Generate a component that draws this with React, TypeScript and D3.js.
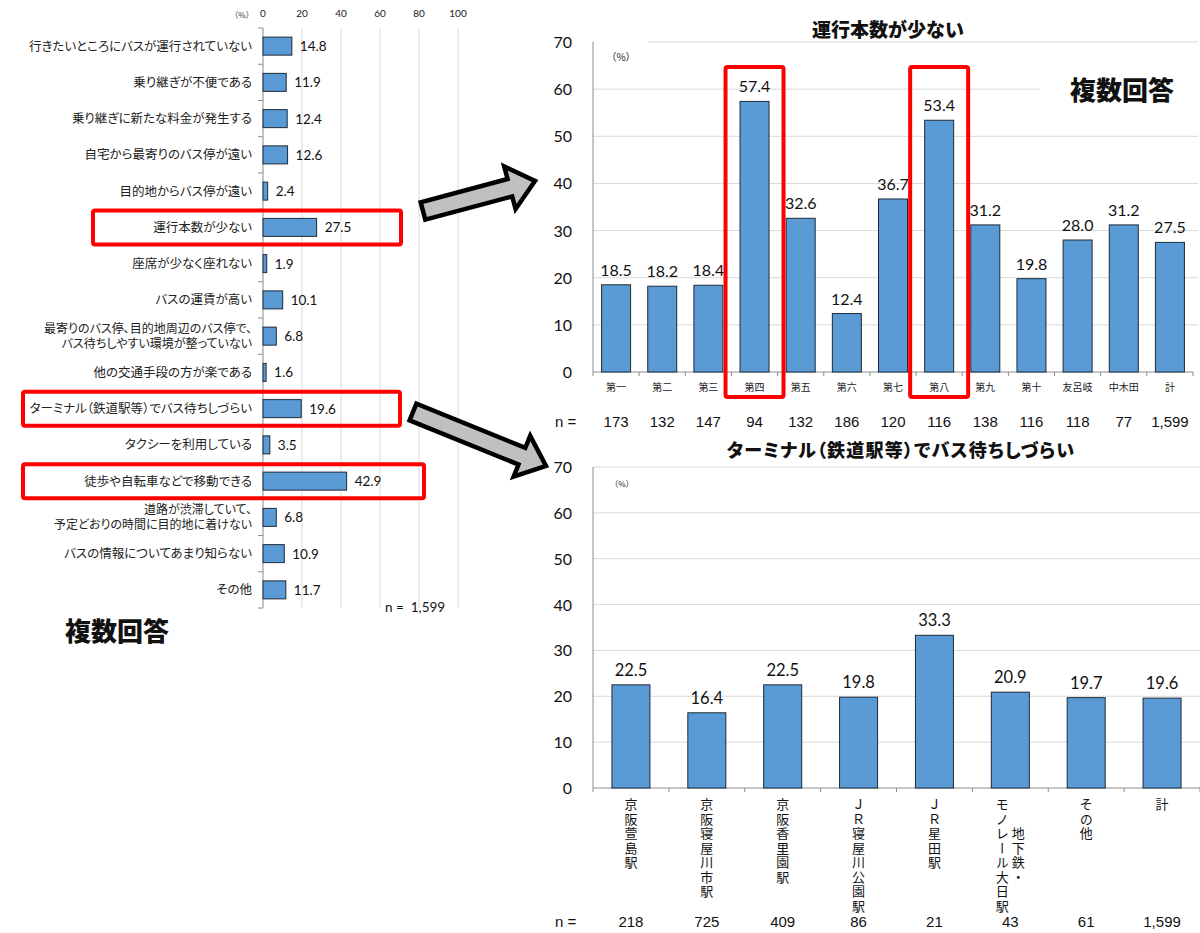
import React from "react";
import * as d3 from "d3";

// ---------- data ----------
const reasons = [
  "行きたいところにバスが運行されていない",
  "乗り継ぎが不便である",
  "乗り継ぎに新たな料金が発生する",
  "自宅から最寄りのバス停が遠い",
  "目的地からバス停が遠い",
  "運行本数が少ない",
  "座席が少なく座れない",
  "バスの運賃が高い",
  "最寄りのバス停、目的地周辺のバス停で、\nバス待ちしやすい環境が整っていない",
  "他の交通手段の方が楽である",
  "ターミナル（鉄道駅等）でバス待ちしづらい",
  "タクシーを利用している",
  "徒歩や自転車などで移動できる",
  "道路が渋滞していて、\n予定どおりの時間に目的地に着けない",
  "バスの情報についてあまり知らない",
  "その他",
];
const reasonValues = [14.8, 11.9, 12.4, 12.6, 2.4, 27.5, 1.9, 10.1, 6.8, 1.6, 19.6, 3.5, 42.9, 6.8, 10.9, 11.7];
const reasonTicks = [0, 20, 40, 60, 80, 100];
const reasonTotalN = 1599;

const wards = ["第一", "第二", "第三", "第四", "第五", "第六", "第七", "第八", "第九", "第十", "友呂岐", "中木田", "計"];
const wardValues = [18.5, 18.2, 18.4, 57.4, 32.6, 12.4, 36.7, 53.4, 31.2, 19.8, 28.0, 31.2, 27.5];
const wardN = [173, 132, 147, 94, 132, 186, 120, 116, 138, 116, 118, 77, 1599];

const stations = [
  "京阪萱島駅",
  "京阪寝屋川市駅",
  "京阪香里園駅",
  "ＪＲ寝屋川公園駅",
  "ＪＲ星田駅",
  "地下鉄・\nモノレール大日駅",
  "その他",
  "計",
];
const stationValues = [22.5, 16.4, 22.5, 19.8, 33.3, 20.9, 19.7, 19.6];
const stationN = [218, 725, 409, 86, 21, 43, 61, 1599];

const pctTicks = [0, 10, 20, 30, 40, 50, 60, 70];

const highlightedWards = ["第四", "第八"];

// ---------- styles ----------
const JP = "'Noto Sans CJK JP', 'Noto Sans CJK SC', sans-serif";
const NUM = "Lato, 'Liberation Sans', sans-serif";
const NARROW = "'Liberation Sans Narrow', 'Liberation Sans', Arial, sans-serif";
const BAR = "#5b9bd5";
const BAR_EDGE = "#1e2a38";
const GRID = "#d9d9d9";
const AXIS = "#8c8c8c";
const RED = "#ff0000";
const fmtN = d3.format(",");

function arrowPoints(x0: number, y0: number, x1: number, y1: number, sw: number, hw: number, hl: number) {
  const dx = x1 - x0, dy = y1 - y0, L = Math.hypot(dx, dy);
  const ux = dx / L, uy = dy / L, nx = -uy, ny = ux;
  const pts: [number, number][] = [
    [0, sw / 2], [L - hl, sw / 2], [L - hl, hw / 2], [L, 0],
    [L - hl, -hw / 2], [L - hl, -sw / 2], [0, -sw / 2],
  ];
  return pts.map(([a, b]) => `${x0 + ux * a + nx * b},${y0 + uy * a + ny * b}`).join(" ");
}

function LeftChart() {
  const x = d3.scaleLinear().domain([0, 100]).range([263, 458]);
  const y = d3.scaleBand<string>().domain(reasons).range([28, 608]);
  const bw = y.bandwidth();
  const boundaries = d3.range(reasons.length + 1).map((i) => 28 + i * bw);
  // highlight boxes: [reason index, left, right]
  const boxes: [number, number, number][] = [
    [5, 93, 401],
    [10, 23, 400],
    [12, 23, 424],
  ];
  return (
    <g>
      {reasonTicks.slice(1).map((t) => (
        <line key={t} x1={x(t)} x2={x(t)} y1={28} y2={608} stroke={GRID} strokeWidth={1} />
      ))}
      {reasonTicks.map((t) => (
        <text key={t} x={x(t)} y={17} fontSize={10} fontFamily={NUM} textAnchor="middle" fill="#222">{t}</text>
      ))}
      <text x={242} y={18} fontSize={8} fontFamily={JP} textAnchor="middle" fill="#333">（%）</text>
      <line x1={x(0)} x2={x(0)} y1={28} y2={608} stroke={AXIS} strokeWidth={1} />
      {boundaries.map((b, i) => (
        <line key={i} x1={x(0) - 5} x2={x(0)} y1={b} y2={b} stroke={AXIS} strokeWidth={1} />
      ))}
      {reasons.map((r, i) => {
        const cy = (y(r) as number) + bw / 2;
        const lines = r.split("\n");
        return (
          <g key={r}>
            <rect x={x(0)} y={cy - 9} width={x(reasonValues[i]) - x(0)} height={18} fill={BAR} stroke={BAR_EDGE} strokeWidth={1} />
            <text x={x(reasonValues[i]) + 8} y={cy + 5} fontSize={13.5} fontFamily={NUM} fill="#111">{reasonValues[i].toFixed(1)}</text>
            <text x={252} y={cy + 4.5 - ((lines.length - 1) / 2) * 15} fontSize={lines.length > 1 ? 12 : 12.5} fontFamily={JP} textAnchor="end" fill="#222"
              style={{ fontFeatureSettings: "'palt'" }}>
              {lines.map((ln, k) => (
                <tspan key={k} x={252} dy={k === 0 ? 0 : 15}>{ln}</tspan>
              ))}
            </text>
          </g>
        );
      })}
      {boxes.map(([idx, x0, x1]) => {
        const cy = (y(reasons[idx]) as number) + bw / 2;
        return <rect key={idx} x={x0} y={cy - 17} width={x1 - x0} height={34} rx={2} fill="none" stroke={RED} strokeWidth={4} />;
      })}
      <text x={385} y={612} fontSize={13.5} fontFamily={NUM} fill="#111" style={{ whiteSpace: "pre" }}>{"n =  " + fmtN(reasonTotalN)}</text>
      <text x={65} y={641} fontSize={26} fontWeight="900" fontFamily={JP} fill="#111">複数回答</text>
    </g>
  );
}

function WardChart() {
  const x = d3.scaleBand<string>().domain(wards).range([593, 1193]);
  const y = d3.scaleLinear().domain([0, 70]).range([372, 42]);
  const bw = x.bandwidth();
  const barW = 29;
  return (
    <g>
      <text x={888} y={37} fontSize={19} fontWeight="900" fontFamily={JP} textAnchor="middle" fill="#111">運行本数が少ない</text>
      {pctTicks.slice(1).map((t) => (
        <line key={t} x1={593} x2={1198} y1={y(t)} y2={y(t)} stroke={GRID} strokeWidth={1} />
      ))}
      {/* white label boxes covering grid */}
      <rect x={594} y={36} width={54} height={34} fill="#fff" />
      <rect x={1040} y={70} width={160} height={40} fill="#fff" />
      <text x={621} y={61} fontSize={10} fontFamily={JP} textAnchor="middle" fill="#222">（%）</text>
      <text x={1070} y={100} fontSize={26} fontWeight="900" fontFamily={JP} fill="#111">複数回答</text>
      {pctTicks.map((t) => (
        <text key={t} x={572} y={y(t) + 6} fontSize={16} fontFamily={NUM} textAnchor="end" fill="#111">{t}</text>
      ))}
      <line x1={593} x2={593} y1={y(70)} y2={y(0)} stroke={AXIS} strokeWidth={1} />
      <line x1={593} x2={1193} y1={y(0)} y2={y(0)} stroke={AXIS} strokeWidth={1} />
      {d3.range(wards.length + 1).map((i) => (
        <line key={i} x1={593 + i * bw} x2={593 + i * bw} y1={y(0)} y2={y(0) + 4} stroke={AXIS} strokeWidth={1} />
      ))}
      {wards.map((w, i) => {
        const cx = (x(w) as number) + bw / 2;
        return (
          <g key={w}>
            <rect x={cx - barW / 2} y={y(wardValues[i])} width={barW} height={y(0) - y(wardValues[i])} fill={BAR} stroke={BAR_EDGE} strokeWidth={1} />
            <text x={cx} y={y(wardValues[i]) - 9} fontSize={16} fontFamily={NUM} textAnchor="middle" fill="#111">{wardValues[i].toFixed(1)}</text>
            <text x={cx} y={391} fontSize={10} fontFamily={JP} textAnchor="middle" fill="#222">{w}</text>
            <text x={cx} y={427} fontSize={15} fontFamily={NARROW} textAnchor="middle" fill="#111">{fmtN(wardN[i])}</text>
          </g>
        );
      })}
      <text x={555} y={427} fontSize={15} fontFamily={NARROW} fill="#111">n =</text>
      {highlightedWards.map((w) => {
        const cx = (x(w) as number) + bw / 2;
        return <rect key={w} x={cx - 29} y={67} width={58} height={330} rx={2} fill="none" stroke={RED} strokeWidth={4} />;
      })}
    </g>
  );
}

function StationChart() {
  const x = d3.scaleBand<string>().domain(stations).range([593, 1200]);
  const y = d3.scaleLinear().domain([0, 70]).range([788, 467]);
  const bw = x.bandwidth();
  const barW = 38;
  const charStep = 14.5;
  const labelTop = 798;
  return (
    <g>
      <text x={901} y={457} fontSize={18} fontWeight="900" fontFamily={JP} textAnchor="middle" fill="#111"
        style={{ fontFeatureSettings: "'palt'", letterSpacing: "1.2px" }}>ターミナル（鉄道駅等）でバス待ちしづらい</text>
      {pctTicks.slice(1).map((t) => (
        <line key={t} x1={593} x2={1200} y1={y(t)} y2={y(t)} stroke={GRID} strokeWidth={1} />
      ))}
      <text x={622} y={487} fontSize={8} fontFamily={JP} textAnchor="middle" fill="#222">（%）</text>
      {pctTicks.map((t) => (
        <text key={t} x={572} y={y(t) + 6} fontSize={16} fontFamily={NUM} textAnchor="end" fill="#111">{t}</text>
      ))}
      <line x1={593} x2={593} y1={y(70)} y2={y(0)} stroke={AXIS} strokeWidth={1} />
      <line x1={593} x2={1200} y1={y(0)} y2={y(0)} stroke={AXIS} strokeWidth={1} />
      {d3.range(stations.length + 1).map((i) => (
        <line key={i} x1={593 + i * bw} x2={593 + i * bw} y1={y(0)} y2={y(0) + 4} stroke={AXIS} strokeWidth={1} />
      ))}
      {stations.map((s, i) => {
        const cx = (x(s) as number) + bw / 2;
        const cols = s.split("\n");
        const maxLen = d3.max(cols, (c) => Array.from(c).length) as number;
        const midY = labelTop + (maxLen * charStep) / 2;
        return (
          <g key={s}>
            <rect x={cx - barW / 2} y={y(stationValues[i])} width={barW} height={y(0) - y(stationValues[i])} fill={BAR} stroke={BAR_EDGE} strokeWidth={1} />
            <text x={cx} y={y(stationValues[i]) - 9} fontSize={16.5} fontFamily={NUM} textAnchor="middle" fill="#111">{stationValues[i].toFixed(1)}</text>
            {cols.map((col, c) => {
              const colX = cx + ((cols.length - 1) / 2 - c) * 16;
              return (
                <text key={c} x={colX} y={midY} fontSize={13} fontFamily={JP} textAnchor="middle" fill="#111"
                  style={{ writingMode: "vertical-rl", letterSpacing: `${charStep - 13}px` }}>{col}</text>
              );
            })}
            <text x={cx} y={927} fontSize={15} fontFamily={NARROW} textAnchor="middle" fill="#111">{fmtN(stationN[i])}</text>
          </g>
        );
      })}
      <text x={555} y={927} fontSize={15} fontFamily={NARROW} fill="#111">n =</text>
    </g>
  );
}

export default function App() {
  return (
    <svg width={1200} height={933} viewBox="0 0 1200 933" style={{ position: "absolute", left: 0, top: 0, background: "#fff", display: "block" }}>
      <rect x={0} y={0} width={1200} height={933} fill="#fff" />
      <LeftChart />
      <WardChart />
      <StationChart />
      <polygon points={arrowPoints(423, 211, 535, 181, 18, 44, 26)} fill="#c0c0c0" stroke="#000" strokeWidth={4.5} strokeLinejoin="miter" />
      <polygon points={arrowPoints(413, 412, 546, 466, 18, 44, 26)} fill="#c0c0c0" stroke="#000" strokeWidth={4.5} strokeLinejoin="miter" />
    </svg>
  );
}
